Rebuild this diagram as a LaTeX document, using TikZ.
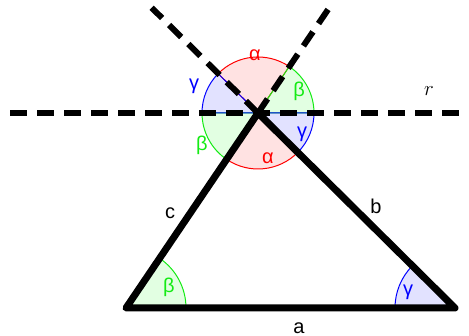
\documentclass[tikz,border=0pt]{standalone}
\usepackage{fontspec}
\setmainfont{Liberation Sans}
\usetikzlibrary{calc}
\definecolor{cred}{RGB}{255,0,0}
\definecolor{cgreen}{RGB}{20,235,20}
\definecolor{cblue}{RGB}{0,0,255}
\definecolor{fred}{RGB}{255,226,226}
\definecolor{fgreen}{RGB}{226,255,226}
\definecolor{fblue}{RGB}{226,226,255}
\begin{document}
\begin{tikzpicture}[x=1pt,y=1pt,
  dline/.style={line width=6pt,dash pattern=on 17pt off 10pt},
  tri/.style={line width=7pt,line join=round,line cap=round},
  lbl/.style={font=\fontsize{20}{24}\selectfont,inner sep=0pt},
  arcline/.style={line width=1pt}]
\useasboundingbox (0,0) rectangle (469,336);
\coordinate (A) at (258,223);
\coordinate (B) at (126,28);
\coordinate (C) at (455,28);
\coordinate (rL) at (10,223);
\coordinate (rR) at (475,223);
\coordinate (bext) at ($(A)!-0.54!(C)$);
\coordinate (cext) at ($(A)!-0.545!(B)$);
\def\R{56}
% sectors at apex
\fill[fred] (A) -- ++(-123.9:\R) arc[start angle=-123.9,end angle=-44.6,radius=\R] -- cycle;
\fill[fred] (A) -- ++(56.1:\R) arc[start angle=56.1,end angle=135.4,radius=\R] -- cycle;
\fill[fgreen] (A) -- ++(0:\R) arc[start angle=0,end angle=56.1,radius=\R] -- cycle;
\fill[fgreen] (A) -- ++(180:\R) arc[start angle=180,end angle=236.1,radius=\R] -- cycle;
\fill[fblue] (A) -- ++(135.4:\R) arc[start angle=135.4,end angle=180,radius=\R] -- cycle;
\fill[fblue] (A) -- ++(-44.6:\R) arc[start angle=-44.6,end angle=0,radius=\R] -- cycle;
\draw[arcline,cred] (A) -- ++(-123.9:\R) arc[start angle=-123.9,end angle=-44.6,radius=\R] -- cycle;
\draw[arcline,cred] (A) -- ++(56.1:\R) arc[start angle=56.1,end angle=135.4,radius=\R] -- cycle;
\draw[arcline,cgreen] (A) -- ++(0:\R) arc[start angle=0,end angle=56.1,radius=\R] -- cycle;
\draw[arcline,cgreen] (A) -- ++(180:\R) arc[start angle=180,end angle=236.1,radius=\R] -- cycle;
\draw[arcline,cblue] (A) -- ++(135.4:\R) arc[start angle=135.4,end angle=180,radius=\R] -- cycle;
\draw[arcline,cblue] (A) -- ++(-44.6:\R) arc[start angle=-44.6,end angle=0,radius=\R] -- cycle;
% sectors at base
\fill[fgreen] (B) -- ++(0:60) arc[start angle=0,end angle=56.1,radius=60] -- cycle;
\draw[arcline,cgreen] ($(B)+(0:60)$) arc[start angle=0,end angle=56.1,radius=60];
\fill[fblue] (C) -- ++(135.4:60) arc[start angle=135.4,end angle=180,radius=60] -- cycle;
\draw[arcline,cblue] ($(C)+(135.4:60)$) arc[start angle=135.4,end angle=180,radius=60];
% dashed lines
\draw[dline] (rL) -- (rR);
\draw[dline] (A) -- (bext);
\draw[dline] (A) -- (cext);
% triangle
\draw[tri] (A) -- (B) -- (C) -- cycle;
% labels
\node[lbl,cred] (la1) at (255,281) {α};
\node[lbl,cred] (la2) at (268,178) {α};
\node[lbl,cgreen] (lb1) at (299,245) {β};
\node[lbl,cgreen] (lb2) at (202,191) {β};
\node[lbl,cblue] (lg1) at (194,250) {γ};
\node[lbl,cblue] (lg2) at (302,202) {γ};
\node[lbl,cgreen] (lb3) at (169,49) {β};
\node[lbl,cblue] (lg3) at (408,44) {γ};
\node[lbl] (na) at (299,8) {a};
\node[lbl] (nb) at (376,130) {b};
\node[lbl] (nc) at (170,123) {c};
\node[lbl] (nr) at (429,245) {$r$};
\end{tikzpicture}
\end{document}
